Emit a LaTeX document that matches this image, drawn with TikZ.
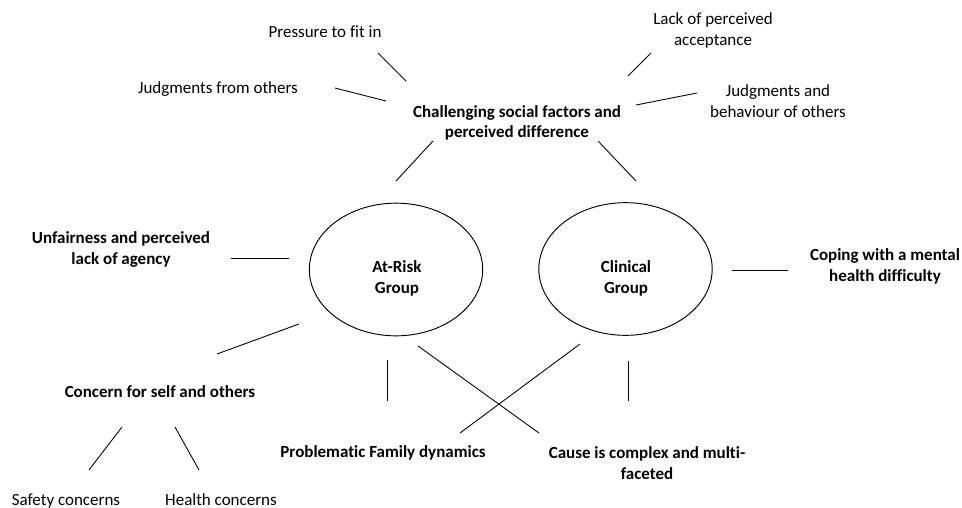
\documentclass[tikz,border=0pt]{standalone}
\usepackage{fontspec}
\setmainfont{Carlito}[Ligatures=NoCommon]
\usetikzlibrary{shapes.geometric}

\begin{document}
\begin{tikzpicture}[x=0.03cm,y=-0.03cm,
    every node/.style={font=\fontsize{14.5}{17.5}\selectfont,align=center,inner sep=0pt},
    hd/.style={font=\fontsize{14.5}{17.5}\selectfont\bfseries},
    grp/.style={ellipse,draw,line width=0.8pt,minimum width=5.2cm,minimum height=3.98cm},
    ln/.style={line width=0.75pt}]
  \useasboundingbox (0,0) rectangle (962,507);

  % the two groups
  \node[grp] (atrisk) at (396,269.5) {};
  \node[grp] (clinical) at (625.5,269) {};
  \node[hd] (atrisktxt) at (397,278.5) {At-Risk\\Group};
  \node[hd] (clinicaltxt) at (626,278.5) {Clinical\\Group};

  % themes
  \node (pressure) at (325,32) {Pressure to fit in};
  \node (judgfrom) at (218,89) {Judgments from others};
  \node[hd] (challenge) at (517,123) {Challenging social factors and\\perceived difference};
  \node (lackacc) at (713,30.5) {Lack of perceived\\acceptance};
  \node (judgbeh) at (778,101) {Judgments and\\behaviour of others};
  \node[hd] (unfair) at (121,249.5) {Unfairness and perceived\\lack of agency};
  \node[hd] (coping) at (885,266.5) {Coping with a mental\\health difficulty};
  \node[hd] (concern) at (160,392) {Concern for self and others};
  \node[anchor=base] (safety) at (66,505) {Safety concerns};
  \node[anchor=base] (health) at (221,505) {Health concerns};
  \node[hd] (family) at (383,453) {Problematic Family dynamics};
  \node[hd] (cause) at (647,463) {Cause is complex and multi-\\faceted};

  % loose ends of the links
  \coordinate (pr-a) at (378,53);   \coordinate (pr-b) at (406,81);
  \coordinate (jf-a) at (335,88);   \coordinate (jf-b) at (386,101);
  \coordinate (ch-a) at (433,141);  \coordinate (ch-b) at (396,181);
  \coordinate (la-a) at (651,53);   \coordinate (la-b) at (628,76);
  \coordinate (jb-a) at (697,93);   \coordinate (jb-b) at (636,105);
  \coordinate (cc-a) at (598,141);  \coordinate (cc-b) at (636,181);
  \coordinate (un-a) at (231,258);  \coordinate (un-b) at (289,258);
  \coordinate (co-a) at (299,324);  \coordinate (co-b) at (217,354);
  \coordinate (sa-a) at (122,427);  \coordinate (sa-b) at (89,470);
  \coordinate (he-a) at (175,427);  \coordinate (he-b) at (199,470);
  \coordinate (fa-a) at (387,360);  \coordinate (fa-b) at (387,401);
  \coordinate (ca-a) at (418,346);  \coordinate (ca-b) at (539,433);
  \coordinate (cf-a) at (580,344);  \coordinate (cf-b) at (460,433);
  \coordinate (cq-a) at (628,361);  \coordinate (cq-b) at (628,401);
  \coordinate (cp-a) at (732,270);  \coordinate (cp-b) at (788,270);

  \draw[ln] (pr-a) -- (pr-b);
  \draw[ln] (jf-a) -- (jf-b);
  \draw[ln] (ch-a) -- (ch-b);
  \draw[ln] (la-a) -- (la-b);
  \draw[ln] (jb-a) -- (jb-b);
  \draw[ln] (cc-a) -- (cc-b);
  \draw[ln] (un-a) -- (un-b);
  \draw[ln] (co-a) -- (co-b);
  \draw[ln] (sa-a) -- (sa-b);
  \draw[ln] (he-a) -- (he-b);
  \draw[ln] (fa-a) -- (fa-b);
  \draw[ln] (ca-a) -- (ca-b);
  \draw[ln] (cf-a) -- (cf-b);
  \draw[ln] (cq-a) -- (cq-b);
  \draw[ln] (cp-a) -- (cp-b);
\end{tikzpicture}
\end{document}
